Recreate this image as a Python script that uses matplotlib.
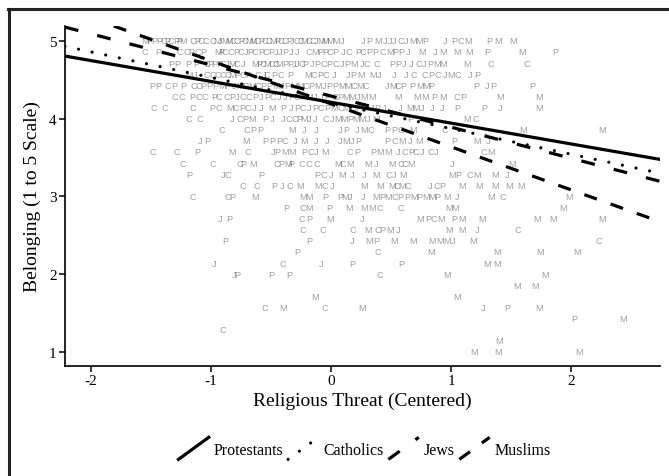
import matplotlib
matplotlib.use("Agg")
import matplotlib.pyplot as plt
from matplotlib.lines import Line2D
from matplotlib.legend_handler import HandlerLine2D

# belonging rows (1-5 scale in sevenths), group letter per point, threat value per point
row_belong = [5.0, 4.857, 4.714, 4.571, 4.429, 4.286, 4.143, 4.0, 3.857, 3.714,
              3.571, 3.429, 3.286, 3.143, 3.0, 2.857, 2.714, 2.571, 2.429, 2.286,
              2.143, 2.0, 1.857, 1.714, 1.571, 1.429, 1.286, 1.143, 1.0]

row_groups = [
    "MPPPCPCPPMCPCCCMJMMCCPCMMCPCCMPCCPJCCMCCJMMMMJJPMJJJCJMMPJPCMPMM",
    "CPCCPCPMPCCPCJPCPCPJJPJJCMPPCPJCPCPPCMPPJMJMMMPMP",
    "PPPPCPPPCJMCJMPCMCCMPPJJCPJPCPCJPMJCCPPJJCJPMMMCC",
    "MJCCCCCMPCPCJCPCPMCPCJJPMMJJJCCPCJMCJP",
    "PPCPPCCPPPMPJMPMCPPMJPMMCPMJPPMMCMCJMCPPMMPPJPP",
    "CCPCCPCCPJCCPJPCJJPCPMJJPCPMMJMMMMMPMCPMM",
    "CCCPCMCPCJJMPJPCJPCPMCMCPJMPJJMMJJJPPJM",
    "CCJCPMPJJCCPMJJCJMMPMMJMPMC",
    "CCPPMJJJPJMCPPCMCMM",
    "JPMPPPCJMJJJMJPPCMJMPMJ",
    "CCPMCJPMMPCJMCPPMMJCPCJCJCM",
    "CCCPMCPMPCCCMCMMJMCCMJM",
    "PJCPPCJMJJMCJMMPCMMJ",
    "CCPJCMMCJMMMCMCJCPMMMMM",
    "CCPMMMPPMJJMPMCPPMPMMPMJMCM",
    "PCMPMMMCCMMM",
    "JPCPMJMPCMPMMMMM",
    "CCCMCPMJMMJC",
    "PPJMPMMMMMJMC",
    "PCMMMM",
    "JCJPPMM",
    "JPPPCMM",
    "MM",
    "MM",
    "CMCMJPM",
    "PM",
    "C",
    "M",
    "MMM",
]

row_threat = [
    [-1.55, -1.51, -1.47, -1.43, -1.39, -1.36, -1.33, -1.29, -1.26, -1.23,
     -1.15, -1.11, -1.08, -1.04, -0.98, -0.95, -0.92, -0.88, -0.85, -0.82,
     -0.78, -0.75, -0.72, -0.68, -0.65, -0.62, -0.58, -0.55, -0.52, -0.48,
     -0.45, -0.42, -0.38, -0.35, -0.32, -0.28, -0.25, -0.22, -0.18, -0.15,
     -0.12, -0.08, -0.05, -0.01, 0.04, 0.09, 0.27, 0.32, 0.39, 0.45, 0.49,
     0.53, 0.58, 0.63, 0.68, 0.73, 0.79, 0.95, 1.03, 1.08, 1.14, 1.32, 1.39, 1.52],
    [-1.55, -1.44, -1.26, -1.20, -1.16, -1.11, -1.06, -0.94, -0.91, -0.88,
     -0.83, -0.79, -0.75, -0.71, -0.67, -0.63, -0.58, -0.54, -0.50, -0.46,
     -0.42, -0.38, -0.33, -0.28, -0.18, -0.13, -0.09, -0.05, -0.01, 0.04,
     0.10, 0.15, 0.23, 0.27, 0.32, 0.37, 0.43, 0.49, 0.54, 0.59, 0.64, 0.76,
     0.87, 0.93, 1.05, 1.15, 1.30, 1.59, 1.87],
    [-1.33, -1.28, -1.19, -1.12, -1.03, -1.00, -0.97, -0.93, -0.90, -0.86,
     -0.82, -0.78, -0.73, -0.63, -0.60, -0.57, -0.53, -0.49, -0.46, -0.43,
     -0.38, -0.34, -0.31, -0.28, -0.24, -0.21, -0.16, -0.11, -0.06, -0.01,
     0.04, 0.09, 0.14, 0.19, 0.26, 0.30, 0.38, 0.51, 0.56, 0.61, 0.67, 0.73,
     0.78, 0.83, 0.88, 0.93, 1.13, 1.33, 1.63],
    [-1.18, -1.13, -1.03, -0.98, -0.94, -0.90, -0.86, -0.82, -0.78, -0.73,
     -0.69, -0.61, -0.56, -0.53, -0.47, -0.42, -0.34, -0.19, -0.14, -0.09,
     -0.04, 0.03, 0.14, 0.19, 0.25, 0.35, 0.40, 0.53, 0.63, 0.69, 0.78, 0.84,
     0.89, 0.95, 1.00, 1.06, 1.16, 1.22],
    [-1.49, -1.44, -1.36, -1.30, -1.23, -1.14, -1.10, -1.06, -1.01, -0.96,
     -0.91, -0.86, -0.81, -0.76, -0.71, -0.66, -0.61, -0.56, -0.51, -0.46,
     -0.41, -0.36, -0.31, -0.26, -0.21, -0.16, -0.11, -0.06, -0.01, 0.04,
     0.09, 0.14, 0.19, 0.24, 0.29, 0.47, 0.52, 0.56, 0.60, 0.68, 0.74, 0.79,
     0.84, 1.21, 1.30, 1.35, 1.68],
    [-1.30, -1.24, -1.15, -1.10, -1.05, -0.97, -0.93, -0.87, -0.82, -0.78,
     -0.73, -0.68, -0.63, -0.58, -0.53, -0.48, -0.43, -0.38, -0.33, -0.28,
     -0.23, -0.18, -0.13, -0.08, -0.03, 0.03, 0.08, 0.13, 0.18, 0.23, 0.28,
     0.34, 0.56, 0.72, 0.78, 0.86, 0.93, 1.05, 1.10, 1.41, 1.73],
    [-1.47, -1.38, -1.15, -0.99, -0.93, -0.84, -0.79, -0.74, -0.69, -0.64,
     -0.58, -0.49, -0.40, -0.33, -0.28, -0.23, -0.18, -0.13, -0.08, -0.03,
     0.03, 0.08, 0.13, 0.18, 0.23, 0.28, 0.33, 0.39, 0.44, 0.58, 0.66, 0.71,
     0.76, 0.84, 0.93, 1.05, 1.28, 1.41, 1.73],
    [-1.18, -1.09, -0.82, -0.76, -0.71, -0.66, -0.55, -0.49, -0.40, -0.35,
     -0.30, -0.26, -0.22, -0.18, -0.13, -0.04, 0.01, 0.06, 0.11, 0.16, 0.21,
     0.26, 0.31, 0.38, 0.66, 1.13, 1.21],
    [-0.91, -0.70, -0.65, -0.59, -0.32, -0.22, -0.12, 0.08, 0.13, 0.22, 0.28,
     0.33, 0.47, 0.53, 0.58, 0.68, 0.95, 1.60, 2.26],
    [-1.09, -1.03, -0.71, -0.55, -0.49, -0.43, -0.38, -0.30, -0.22, -0.12,
     -0.03, 0.08, 0.13, 0.18, 0.23, 0.47, 0.53, 0.59, 0.66, 0.73, 1.03, 1.22, 1.31],
    [-1.48, -1.28, -1.11, -0.82, -0.69, -0.48, -0.45, -0.38, -0.32, -0.22,
     -0.17, -0.12, -0.05, 0.16, 0.22, 0.35, 0.41, 0.48, 0.56, 0.62, 0.67, 0.71,
     0.76, 0.83, 0.88, 1.27, 1.33],
    [-1.23, -0.98, -0.76, -0.73, -0.65, -0.45, -0.41, -0.36, -0.33, -0.24,
     -0.18, -0.12, 0.06, 0.10, 0.16, 0.31, 0.38, 0.51, 0.58, 0.62, 0.67, 1.01, 1.51],
    [-1.18, -0.90, -0.86, -0.58, -0.11, -0.06, 0.00, 0.09, 0.18, 0.28, 0.38,
     0.48, 0.53, 0.60, 1.01, 1.06, 1.16, 1.22, 1.37, 1.47],
    [-0.73, -0.62, -0.47, -0.41, -0.34, -0.26, -0.11, -0.05, 0.01, 0.28, 0.41,
     0.51, 0.55, 0.59, 0.64, 0.83, 0.88, 0.93, 1.09, 1.23, 1.37, 1.48, 1.58],
    [-1.15, -0.86, -0.82, -0.63, -0.23, -0.18, -0.05, 0.08, 0.12, 0.16, 0.27,
     0.38, 0.43, 0.48, 0.53, 0.58, 0.64, 0.69, 0.74, 0.79, 0.84, 0.89, 0.97,
     1.05, 1.33, 1.43, 1.98],
    [-0.37, -0.23, -0.18, -0.01, 0.15, 0.28, 0.34, 0.41, 0.58, 0.98, 1.03, 1.93],
    [-0.92, -0.85, -0.24, -0.18, -0.01, 0.26, 0.74, 0.81, 0.86, 0.92, 1.03,
     1.09, 1.26, 1.72, 1.85, 2.26],
    [-0.23, -0.07, 0.18, 0.31, 0.39, 0.43, 0.49, 0.56, 0.98, 1.09, 1.22, 1.56],
    [-0.88, -0.18, 0.18, 0.32, 0.38, 0.53, 0.68, 0.84, 0.91, 0.97, 1.02, 1.18, 2.23],
    [-0.28, 0.39, 0.83, 1.38, 1.74, 2.05],
    [-0.97, -0.40, -0.08, 0.18, 0.59, 1.30, 1.38],
    [-0.81, -0.78, -0.50, -0.35, 0.41, 0.97, 1.78],
    [1.55, 1.70],
    [-0.13, 1.05],
    [-0.55, -0.40, -0.05, 0.26, 1.27, 1.47, 1.73],
    [2.03, 2.43],
    [-0.90],
    [1.40],
    [1.19, 1.39, 2.07],
]

# fitted lines per group
group_names = ["Protestants", "Catholics", "Jews", "Muslims"]
fit_intercept = [4.21, 4.20, 4.29, 4.19]
fit_slope = [-0.268, -0.329, -0.40, -0.553]

plt.rcParams["lines.scale_dashes"] = False
serif = "Liberation Serif"

fig = plt.figure(figsize=(6.69, 4.77), dpi=100)
ax = fig.add_axes([0.097, 0.2306, 0.8895, 0.7128])

for yv, grp, xs in zip(row_belong, row_groups, row_threat):
    for xv, g in zip(xs, grp):
        ax.text(xv, yv, g, ha="center", va="center", fontsize=6.7,
                family="Liberation Sans", color="black", alpha=0.38, zorder=1)

line_styles = [
    dict(linestyle="-"),
    dict(linestyle=(0, (0.01, 10)), dash_capstyle="round"),
    dict(linestyle=(0, (10, 7, 0.01, 7)), dash_capstyle="butt"),
    dict(linestyle=(0, (9.5, 10.5)), dash_capstyle="butt"),
]
handles = []
for name, b0, b1, st in zip(group_names, fit_intercept, fit_slope, line_styles):
    ax.axline((0, b0), slope=b1, color="black", linewidth=2.3, zorder=3, **st)
    handles.append(Line2D([], [], color="black", linewidth=2.3, label=name, **st))

ax.set_xlim(-2.215, 2.74)
ax.set_ylim(0.82, 5.19)
ax.set_xticks([-2, -1, 0, 1, 2])
ax.set_yticks([1, 2, 3, 4, 5])
ax.set_xticklabels(["-2", "-1", "0", "1", "2"])
for s in ["top", "right"]:
    ax.spines[s].set_visible(False)
for s in ["left", "bottom"]:
    ax.spines[s].set_linewidth(1.2)
ax.tick_params(direction="out", length=4, width=1.1, labelsize=11, pad=2)
for lab in ax.get_xticklabels() + ax.get_yticklabels():
    lab.set_family(serif)

ax.set_xlabel("Religious Threat (Centered)", fontsize=14, family=serif, labelpad=3)
ax.set_ylabel("Belonging (1 to 5 Scale)", fontsize=14, family=serif, labelpad=6)


class DiagonalHandler(HandlerLine2D):
    def create_artists(self, legend, orig_handle, xdescent, ydescent,
                       width, height, fontsize, trans):
        line = Line2D([-xdescent, width - xdescent], [-ydescent, height - ydescent])
        self.update_prop(line, orig_handle, legend)
        line.set_transform(trans)
        return [line]


fig.legend(handles=handles, loc="center", bbox_to_anchor=(0.545, 0.058), ncol=4,
           frameon=False, prop={"family": serif, "size": 11.5},
           handler_map={Line2D: DiagonalHandler()},
           handlelength=1.9, handleheight=1.75, handletextpad=0.3,
           columnspacing=0.3)

# frame remnants at top and left of the figure
fig.add_artist(Line2D([0.012, 1.0], [0.979, 0.979], color="#222222", linewidth=2.2,
                      transform=fig.transFigure))
fig.add_artist(Line2D([0.013, 0.013], [0.0, 0.979], color="#222222", linewidth=2.2,
                      transform=fig.transFigure))

fig.savefig("out.png", dpi=100)
